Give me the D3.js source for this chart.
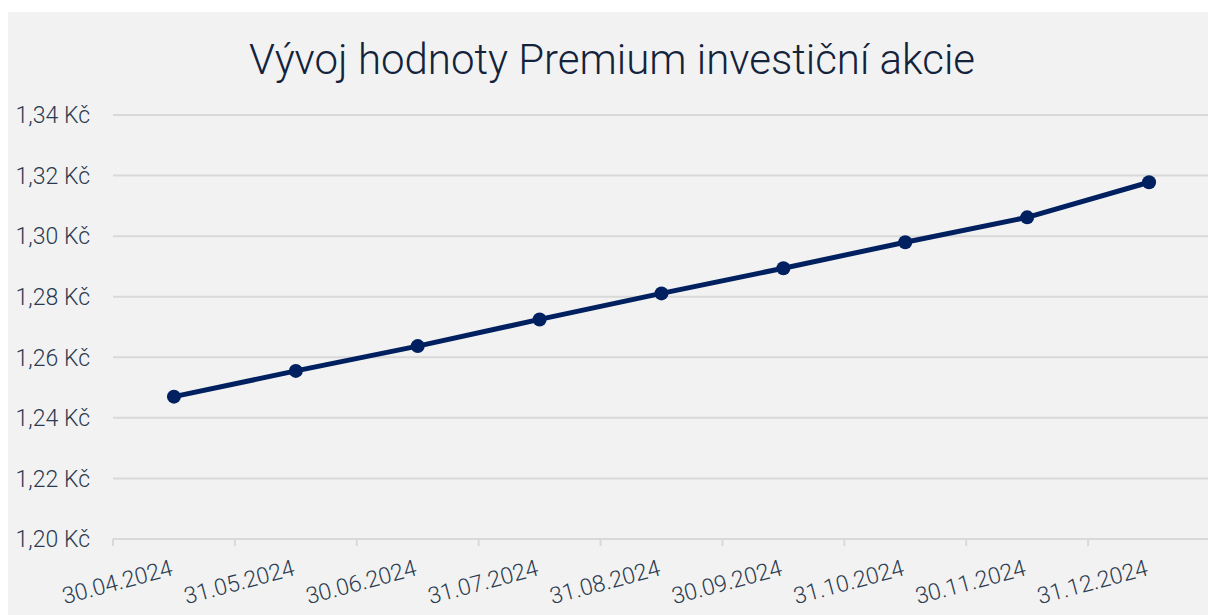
<!DOCTYPE html>
<html>
<head>
<meta charset="utf-8">
<script src="https://cdn.jsdelivr.net/npm/d3@7"></script>
<style>
  body { margin: 0; background: #fff; }
  svg { display: block; font-family: Roboto, sans-serif; }
</style>
</head>
<body>
<script>
const title = 'Vývoj hodnoty Premium investiční akcie'
const dates = ['30.04.2024','31.05.2024','30.06.2024','31.07.2024','31.08.2024','30.09.2024','31.10.2024','30.11.2024','31.12.2024']
const values = [1.2470,1.2555,1.2637,1.2725,1.2811,1.2894,1.2980,1.3062,1.3178]
const yTicks = [1.20,1.22,1.24,1.26,1.28,1.30,1.32,1.34]

const width = 1208, height = 615
const svg = d3.select('body').append('svg')
  .attr('width', width)
  .attr('height', height)

svg.append('rect')
  .attr('x', 8).attr('y', 12)
  .attr('width', width - 8).attr('height', height - 12)
  .attr('fill', '#f2f2f2')

const x = d3.scaleBand().domain(dates).range([113, 1210])
const y = d3.scaleLinear().domain([1.20, 1.34]).range([539, 115])

svg.append('text')
  .attr('x', 612).attr('y', 74)
  .attr('text-anchor', 'middle')
  .attr('font-size', 42)
  .attr('font-weight', 300)
  .attr('fill', '#13233c')
  .text(title)

// grid + y labels
const grid = svg.append('g')
grid.selectAll('line')
  .data(yTicks)
  .join('line')
  .attr('x1', 113).attr('x2', width)
  .attr('y1', d => y(d)).attr('y2', d => y(d))
  .attr('stroke', '#d9d9d9')
  .attr('stroke-width', 2)

grid.selectAll('text')
  .data(yTicks)
  .join('text')
  .attr('x', 90)
  .attr('y', d => y(d))
  .attr('dy', '0.36em')
  .attr('text-anchor', 'end')
  .attr('font-size', 23)
  .attr('font-weight', 300)
  .attr('fill', '#2a3a50')
  .text(d => d.toFixed(2).replace('.', ',') + ' Kč')

// x ticks at band edges
svg.append('g').selectAll('line')
  .data(dates)
  .join('line')
  .attr('x1', d => x(d)).attr('x2', d => x(d))
  .attr('y1', y(1.20)).attr('y2', y(1.20) + 7)
  .attr('stroke', '#d9d9d9')
  .attr('stroke-width', 2)

svg.append('g').selectAll('text')
  .data(dates)
  .join('text')
  .attr('transform', d => `translate(${x(d) + x.bandwidth()/2},575) rotate(-15)`)
  .attr('text-anchor', 'end')
  .attr('font-size', 23)
  .attr('font-weight', 300)
  .attr('fill', '#2a3a50')
  .text(d => d)

const line = d3.line()
  .x((d, i) => x(dates[i]) + x.bandwidth()/2)
  .y(d => y(d))

svg.append('path')
  .datum(values)
  .attr('d', line)
  .attr('fill', 'none')
  .attr('stroke', '#002060')
  .attr('stroke-width', 5)
  .attr('stroke-linejoin', 'round')

svg.append('g').selectAll('circle')
  .data(values)
  .join('circle')
  .attr('cx', (d, i) => x(dates[i]) + x.bandwidth()/2)
  .attr('cy', d => y(d))
  .attr('r', 7)
  .attr('fill', '#002060')
</script>
</body>
</html>
